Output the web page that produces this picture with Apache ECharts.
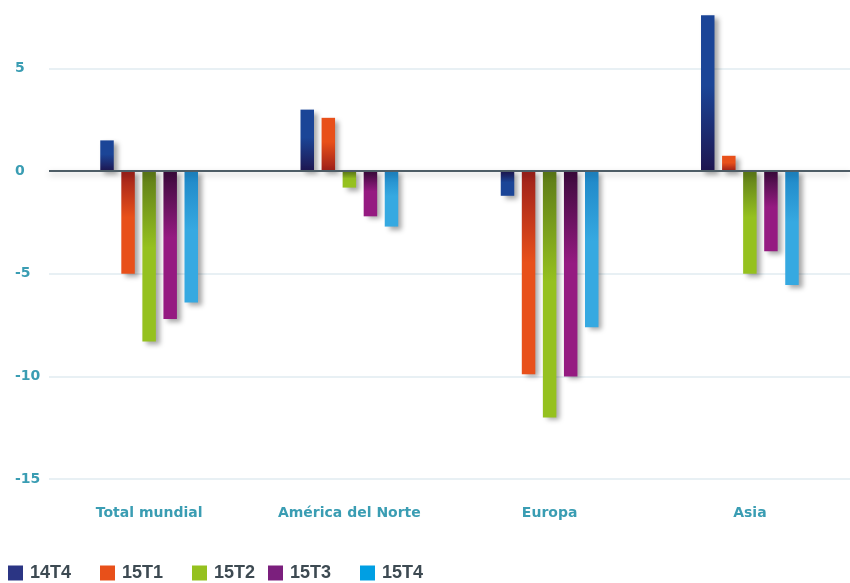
<!DOCTYPE html>
<html>
<head>
<meta charset="utf-8" />
<title>Variación por región</title>
<script src="https://cdn.jsdelivr.net/npm/echarts@6/dist/echarts.min.js"></script>
<style>
  html, body { margin: 0; padding: 0; background: #fff; }
  #main { width: 850px; height: 583px; }
</style>
</head>
<body>
<div id="main"></div>
<script type="text/javascript">
    // datos
    var regiones = ['Total mundial', 'América del Norte', 'Europa', 'Asia'];
    var trimestres = ['14T4', '15T1', '15T2', '15T3', '15T4'];
    var v14T4 = [1.5, 3.0, -1.2, 7.6];
    var v15T1 = [-5.0, 2.6, -9.9, 0.75];
    var v15T2 = [-8.3, -0.8, -12.0, -5.0];
    var v15T3 = [-7.2, -2.2, -10.0, -3.9];
    var v15T4 = [-6.4, -2.7, -7.6, -5.55];
    var valores = [v14T4, v15T1, v15T2, v15T3, v15T4];

    // colores: base y tono oscuro junto al eje
    var colores = ['#1B4597', '#E8501A', '#95C11F', '#951B81', '#36A9E1'];
    var oscuros = ['#1E1650', '#9C1F1A', '#5D7A18', '#3B0A3C', '#1E86C6'];
    var leyendaColores = ['#2B3584', '#E8501A', '#95C11F', '#7B1F7D', '#009FE3'];
    var leyendaLeft = [8, 100, 192, 268, 360];

    var myChart = echarts.init(document.getElementById('main'));

    function barra(v, i) {
        var stops;
        if (v >= 0) {
            stops = [{ offset: 0, color: colores[i] }, { offset: 0.45, color: colores[i] }, { offset: 1, color: oscuros[i] }];
        } else {
            stops = [{ offset: 0, color: oscuros[i] }, { offset: 0.45, color: colores[i] }, { offset: 1, color: colores[i] }];
        }
        return {
            value: v,
            itemStyle: {
                color: new echarts.graphic.LinearGradient(0, 0, 0, 1, stops),
                shadowColor: 'rgba(0,0,0,0.35)',
                shadowBlur: 5,
                shadowOffsetX: 4,
                shadowOffsetY: 3
            }
        };
    }

    var series = trimestres.map(function (t, i) {
        var s = {
            name: t,
            type: 'bar',
            barWidth: 13.5,
            barGap: '56%',
            itemStyle: { color: leyendaColores[i] },
            data: valores[i].map(function (v) { return barra(v, i); })
        };
        if (i === 0) {
            s.markLine = {
                silent: true,
                symbol: 'none',
                label: { show: false },
                z: 10,
                lineStyle: {
                    type: 'solid',
                    color: '#4E5D66',
                    width: 2,
                    shadowColor: 'rgba(0,0,0,0.25)',
                    shadowBlur: 6,
                    shadowOffsetY: 3
                },
                data: [{ yAxis: 0 }]
            };
        }
        return s;
    });

    var legends = trimestres.map(function (t, i) {
        return {
            data: [t],
            left: leyendaLeft[i],
            bottom: 1,
            padding: 0,
            icon: 'rect',
            itemWidth: 15,
            itemHeight: 15,
            itemGap: 7,
            selectedMode: false,
            itemStyle: { shadowBlur: 0, color: leyendaColores[i] },
            textStyle: { color: '#3D4A52', fontSize: 18, fontWeight: 'bold', fontFamily: 'Liberation Sans', padding: [2, 0, 0, 2] }
        };
    });

    var option = {
        animation: false,
        grid: { left: 49, right: -11, top: 7, bottom: 104 },
        legend: legends,
        xAxis: {
            type: 'category',
            data: regiones,
            axisLine: { show: false, onZero: false },
            axisTick: { show: false },
            axisLabel: { color: '#3A9DB3', fontSize: 14, fontWeight: 'bold', fontFamily: 'DejaVu Sans', margin: 27 }
        },
        yAxis: {
            type: 'value',
            min: -15,
            max: 8,
            interval: 5,
            axisLine: { show: false },
            axisTick: { show: false },
            splitLine: { lineStyle: { color: ['#E0EBF0', '#E0EBF0', '#E0EBF0', '#E0EBF0', '#E0EBF0', 'rgba(0,0,0,0)'], width: 1.5 } },
            axisLabel: {
                color: '#3A9DB3', fontSize: 14, fontWeight: 'bold', fontFamily: 'DejaVu Sans', align: 'left', margin: 34,
                formatter: function (v) { return v % 5 === 0 ? String(v) : ''; }
            }
        },
        series: series
    };

    myChart.setOption(option);
</script>
</body>
</html>
